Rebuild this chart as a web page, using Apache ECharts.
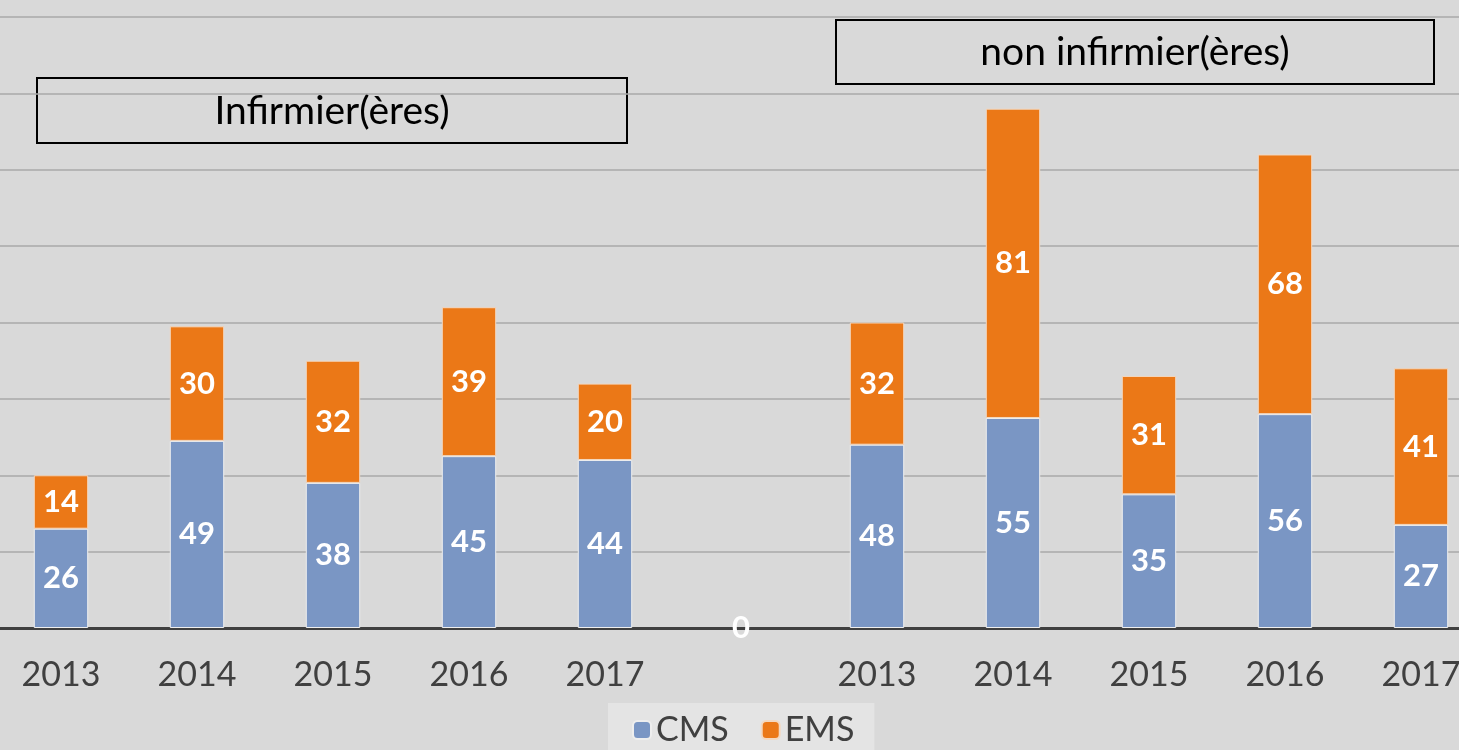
<!DOCTYPE html>
<html>
<head>
<meta charset="utf-8">
<script src="https://cdn.jsdelivr.net/npm/echarts@6/dist/echarts.min.js"></script>
<style>
  html, body { margin: 0; padding: 0; background: #d9d9d9; }
  #chart { width: 1459px; height: 750px; }
</style>
</head>
<body>
<div id="chart"></div>
<script>
// categories (blank slot in the middle separates the two groups)
var years = ['2013', '2014', '2015', '2016', '2017', '', '2013', '2014', '2015', '2016', '2017'];
var cms = [26, 49, 38, 45, 44, 0, 48, 55, 35, 56, 27];
var ems = [14, 30, 32, 39, 20, '-', 32, 81, 31, 68, 41];

var fontName = 'Lato';

var labelStyle = {
    show: true,
    position: 'inside',
    color: '#ffffff',
    fontFamily: fontName,
    fontWeight: 'bold',
    fontSize: 31
};

var myChart = echarts.init(document.getElementById('chart'));

// the empty middle slot gets no border so only its "0" label shows
var cmsData = cms.map(function (v, i) {
    if (years[i] === '') {
        return { value: v, itemStyle: { borderWidth: 0 } };
    }
    return v;
});

var option = {
    backgroundColor: '#d9d9d9',
    animation: false,
    grid: {
        left: -7,
        right: -30,
        top: 17,
        bottom: 122,
        containLabel: false,
        outerBoundsMode: 'none'
    },
    legend: {
        data: ['CMS', 'EMS'],
        left: 608,
        top: 703,
        padding: [10, 20, 14, 24],
        backgroundColor: '#e4e4e4',
        itemWidth: 18,
        itemHeight: 18,
        itemGap: 32,
        textStyle: { fontFamily: fontName, fontSize: 34, color: '#404040' }
    },
    xAxis: {
        type: 'category',
        data: years,
        axisTick: { show: false },
        axisLine: { lineStyle: { color: '#404040', width: 3 } },
        axisLabel: { fontFamily: fontName, fontSize: 34, color: '#404040', margin: 30, interval: 0 }
    },
    yAxis: {
        type: 'value',
        min: 0,
        max: 160,
        interval: 20,
        axisLabel: { show: false },
        axisLine: { show: false },
        axisTick: { show: false },
        splitLine: { lineStyle: { color: '#a8a8a8', width: 1.5 } }
    },
    series: [
        {
            name: 'CMS',
            type: 'bar',
            stack: 'sum',
            barWidth: '40%',
            data: cmsData,
            itemStyle: { color: '#7a96c4', borderColor: '#eeeeee', borderWidth: 1 },
            label: labelStyle
        },
        {
            name: 'EMS',
            type: 'bar',
            stack: 'sum',
            data: ems,
            itemStyle: { color: '#eb7817', borderColor: '#f3d8c0', borderWidth: 1 },
            label: labelStyle
        }
    ],
    graphic: [
        {
            type: 'rect',
            shape: { x: 37, y: 78, width: 590, height: 65 },
            style: { fill: 'transparent', stroke: '#000', lineWidth: 2 }
        },
        {
            type: 'text',
            x: 332, y: 111,
            style: {
                text: 'Infirmier(ères)', fill: '#000', fontFamily: fontName, fontSize: 39,
                align: 'center', verticalAlign: 'middle'
            }
        },
        {
            type: 'rect',
            shape: { x: 836, y: 20, width: 598, height: 64 },
            style: { fill: 'transparent', stroke: '#000', lineWidth: 2 }
        },
        {
            type: 'text',
            x: 1135, y: 52,
            style: {
                text: 'non infirmier(ères)', fill: '#000', fontFamily: fontName, fontSize: 39,
                align: 'center', verticalAlign: 'middle'
            }
        }
    ]
};

myChart.setOption(option);
</script>
</body>
</html>
